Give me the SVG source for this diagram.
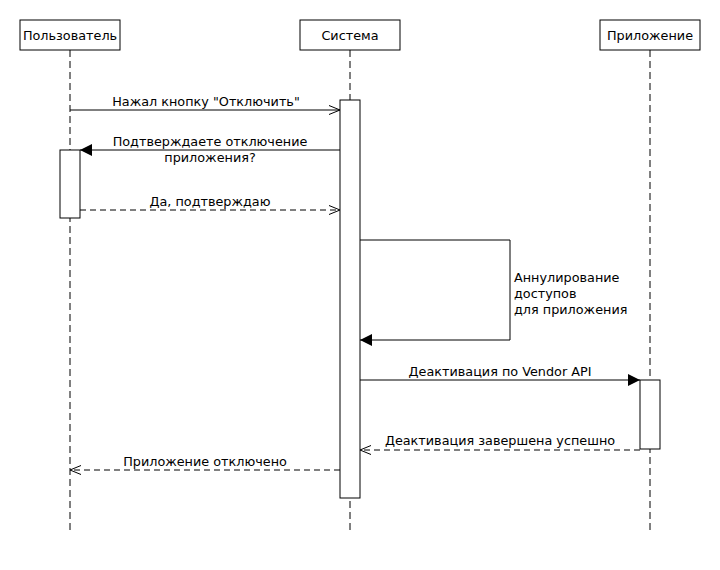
<svg xmlns="http://www.w3.org/2000/svg" width="720" height="570" viewBox="0 0 720 570">
<style>
.box{fill:#fff;stroke:#000;stroke-width:1}
.life{stroke:#000;stroke-width:1;stroke-dasharray:7 4;fill:none}
.msg{stroke:#000;stroke-width:1;fill:none}
.ret{stroke:#000;stroke-width:1;fill:none;stroke-dasharray:6 4}
text{font-family:"DejaVu Sans","Liberation Sans",sans-serif;font-size:12.8px;fill:#000}
.c{text-anchor:middle}
</style>
<defs>
<marker id="open" viewBox="0 0 12 10" refX="11" refY="5" markerWidth="12" markerHeight="10" markerUnits="userSpaceOnUse" orient="auto">
<path d="M0,0.5 L11,5 L0,9.5" fill="none" stroke="#000" stroke-width="1"/>
</marker>
<marker id="filled" viewBox="0 0 12 12" refX="12" refY="6" markerWidth="12" markerHeight="12" markerUnits="userSpaceOnUse" orient="auto">
<path d="M0,0 L12,6 L0,12 Z" fill="#000" stroke="none"/>
</marker>
</defs>

<g id="lifelines">
<line class="life" x1="70" y1="50" x2="70" y2="530"/>
<line class="life" x1="350" y1="50" x2="350" y2="530"/>
<line class="life" x1="650" y1="50" x2="650" y2="530"/>
</g>

<g id="user">
<rect class="box" x="20" y="20" width="100" height="30"/>
<text class="c" x="70" y="39.5">Пользователь</text>
</g>
<g id="system">
<rect class="box" x="300" y="20" width="100" height="30"/>
<text class="c" x="350" y="39.5">Система</text>
</g>
<g id="app">
<rect class="box" x="600" y="20" width="100" height="30"/>
<text class="c" x="650" y="39.5">Приложение</text>
</g>

<g id="activations">
<rect id="act-system" class="box" x="340" y="100" width="20" height="398"/>
<rect id="act-user" class="box" x="60" y="150" width="20" height="68"/>
<rect id="act-app" class="box" x="640" y="380" width="20" height="69"/>
</g>

<g id="connectors">
<line class="msg" x1="70" y1="110" x2="340" y2="110" marker-end="url(#open)"/>
<line class="msg" x1="340" y1="150" x2="80" y2="150" marker-end="url(#filled)"/>
<line class="ret" x1="80" y1="210" x2="340" y2="210" marker-end="url(#open)"/>
<polyline class="msg" points="360,240 510,240 510,340 360,340" marker-end="url(#filled)"/>
<line class="msg" x1="360" y1="380" x2="640" y2="380" marker-end="url(#filled)"/>
<line class="ret" x1="640" y1="450" x2="360" y2="450" marker-end="url(#open)"/>
<line class="ret" x1="340" y1="470" x2="70" y2="470" marker-end="url(#open)"/>
</g>

<g id="labels">
<text class="c" x="206" y="106">Нажал кнопку "Отключить"</text>
<text class="c" x="210" y="146">Подтверждаете отключение</text>
<text class="c" x="210" y="162">приложения?</text>
<text class="c" x="210" y="206">Да, подтверждаю</text>
<text x="514" y="282">Аннулирование</text>
<text x="514" y="298">доступов</text>
<text x="514" y="314">для приложения</text>
<text class="c" x="500" y="376">Деактивация по Vendor API</text>
<text class="c" x="500" y="445">Деактивация завершена успешно</text>
<text class="c" x="205" y="466">Приложение отключено</text>
</g>
</svg>
